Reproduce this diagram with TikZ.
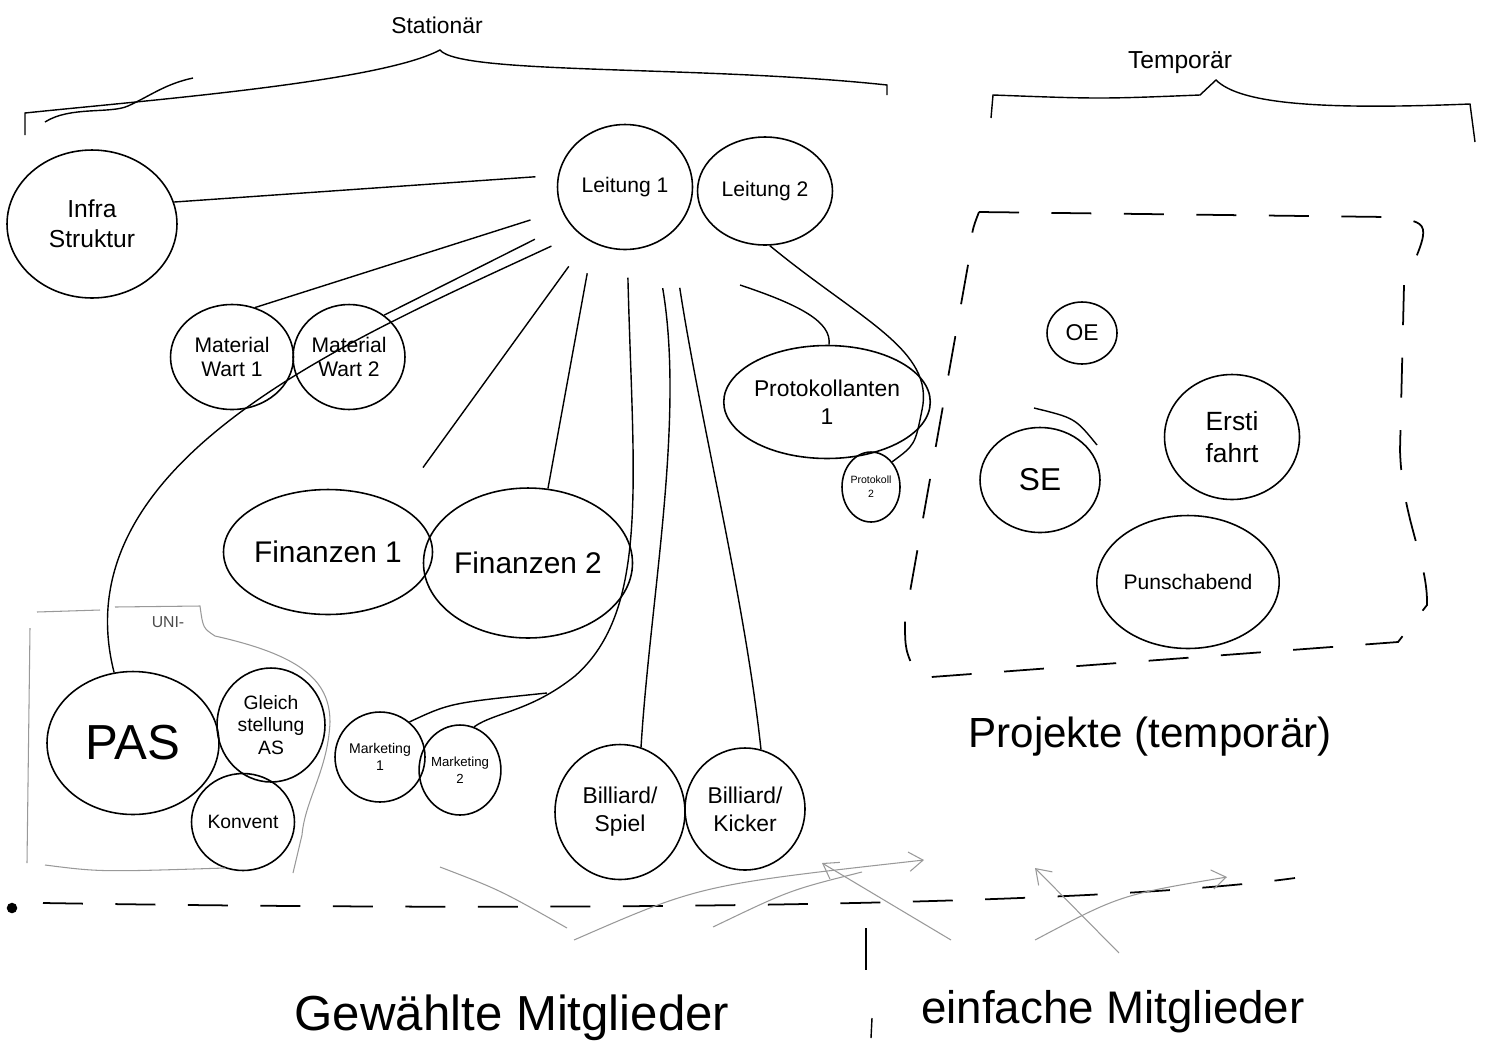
\documentclass[tikz,border=0pt]{standalone}
\usepackage{fontspec}
\setmainfont{Liberation Sans}
\usetikzlibrary{shapes.geometric,arrows.meta}

\begin{document}
\begin{tikzpicture}[x=0.02cm, y=-0.02cm,
    blob/.style = {draw, ellipse, inner sep=0pt, align=center, line width=0.9pt},
    wire/.style = {line width=0.8pt},
    faint/.style = {draw=black!40, line width=0.6pt},
    dashes/.style = {line width=1pt, dash pattern=on 0.8cm off 0.65cm},
    >={Straight Barb[length=8pt,width=11pt]}]
\useasboundingbox (0,0) rectangle (1487,1052);

% braces over the two halves
\node[font=\fontsize{13}{15}\selectfont] (stat) at (437,25) {Stationär};
\node[font=\fontsize{14}{16}\selectfont] (temp) at (1180,63) {Temporär};
\draw[wire] (25,135) -- (25,113) .. controls (150,100) and (380,82) .. (440,50)
    .. controls (460,75) and (700,65) .. (887,85) -- (887,95);
\draw[wire] (45,122) .. controls (70,106) and (110,114) .. (128,106) .. controls (150,96) and (165,84) .. (193,78);
\draw[wire] (991,118) -- (993,95) .. controls (1100,99) .. (1200,95) -- (1216,80)
    .. controls (1240,104) and (1320,110) .. (1470,104) -- (1475,142);

% nodes
\node[blob, minimum width=3.4cm, minimum height=2.96cm, font=\fontsize{14}{17}\selectfont] (infra) at (92,224) {Infra\\Struktur};
\node[blob, minimum width=2.7cm, minimum height=2.5cm, font=\fontsize{12}{14}\selectfont] (l1) at (625,187) {Leitung 1};
\node[blob, minimum width=2.7cm, minimum height=2.16cm, font=\fontsize{12}{14}\selectfont] (l2) at (765,191) {Leitung 2};
\node[blob, minimum width=2.46cm, minimum height=2.1cm, font=\fontsize{12}{14}\selectfont] (mw1) at (232,357) {Material\\Wart 1};
\node[blob, minimum width=2.24cm, minimum height=2.1cm, font=\fontsize{12}{14}\selectfont] (mw2) at (349,357) {Material\\Wart 2};
\node[blob, minimum width=3.66cm, minimum height=2.5cm, font=\fontsize{17}{20}\selectfont] (fin1) at (328,552) {Finanzen 1};
\node[blob, minimum width=3.8cm, minimum height=3.0cm, font=\fontsize{17}{20}\selectfont] (fin2) at (528,563) {Finanzen 2};
\node[blob, minimum width=3.8cm, minimum height=2.26cm, font=\fontsize{13}{16}\selectfont] (proto1) at (827,402) {Protokollanten\\1};
\node[blob, minimum width=1.04cm, minimum height=1.4cm, font=\fontsize{6}{8}\selectfont] (proto2) at (871,487) {Protokoll\\2};
\node[blob, minimum width=1.4cm, minimum height=1.24cm, font=\fontsize{13}{15}\selectfont] (oe) at (1082,333) {OE};
\node[blob, minimum width=2.7cm, minimum height=2.5cm, font=\fontsize{15}{18}\selectfont] (ersti) at (1232,437) {Ersti\\fahrt};
\node[blob, minimum width=2.4cm, minimum height=2.1cm, font=\fontsize{18}{20}\selectfont] (se) at (1040,480) {SE};
\node[blob, minimum width=3.06cm, minimum height=2.66cm, font=\fontsize{12}{14}\selectfont] (punsch) at (1188,582) {Punschabend};
\node[blob, minimum width=3.44cm, minimum height=2.86cm, font=\fontsize{28}{30}\selectfont] (pas) at (133,743) {PAS};
\node[blob, minimum width=2.16cm, minimum height=2.28cm, font=\fontsize{11}{13}\selectfont] (gleich) at (271,725) {Gleich\\stellung\\AS};
\node[blob, minimum width=2.06cm, minimum height=1.94cm, font=\fontsize{11}{13}\selectfont] (konvent) at (243,822) {Konvent};
\node[blob, minimum width=1.8cm, minimum height=1.8cm, font=\fontsize{8}{10}\selectfont] (mk1) at (380,757) {Marketing\\1};
\node[blob, minimum width=1.52cm, minimum height=1.8cm, font=\fontsize{7.5}{10}\selectfont] (mk2) at (460,770) {Marketing\\2};
\node[blob, minimum width=2.6cm, minimum height=2.7cm, font=\fontsize{13}{16}\selectfont] (bs) at (620,812) {Billiard/\\Spiel};
\node[blob, minimum width=2.4cm, minimum height=2.44cm, font=\fontsize{13}{16}\selectfont] (bk) at (745,809) {Billiard/\\Kicker};

% spokes from Leitung
\draw[wire, shorten >=0.45cm] (infra.15) -- (l1.170);
\draw[wire, shorten >=0.65cm] (mw1.65) -- (l1.200);
\draw[wire, shorten >=0.75cm] (mw2.50) -- (l1.212);
\draw[wire, shorten <=0.6cm] (l1.225) .. controls (350,340) and (60,460) .. (pas.105);
\draw[wire, shorten <=0.9cm, shorten >=0.65cm] (fin1.35) -- (l1.235);
\draw[wire, shorten >=0.62cm] (fin2.75) -- (l1.240);
\draw[wire, shorten <=0.55cm] (l1.272) .. controls (633,480) and (650,610) .. (575,676)
    .. controls (530,712) and (495,712) .. (mk2.72);
\coordinate (mkjoin) at (547,693);
\draw[wire] (mk1.50) .. controls (450,703) .. (mkjoin);
\draw[wire, shorten <=0.9cm] (l1.-62) .. controls (685,420) and (650,600) .. (bs.72);
\draw[wire, shorten <=1.1cm] (l1.-45) .. controls (700,420) and (745,600) .. (bk.75);
\coordinate (p1free) at (740,285);
\draw[wire] (p1free) .. controls (800,305) and (832,322) .. (proto1.88);
\draw[wire] (l2.-85) .. controls (860,320) and (935,350) .. (922,410) .. controls (915,445) .. (proto2.50);
\draw[wire] (1034,408) .. controls (1075,418) .. (1097,445);

% UNI area
\node[font=\fontsize{9}{10}\selectfont, text=black!70] (uni) at (168,622) {UNI-};
\draw[faint] (37,612) -- (100,610);
\draw[faint] (30,628) -- (27,863);
\draw[faint] (45,865) .. controls (100,872) .. (225,868);
\draw[faint] (115,607) -- (200,606) .. controls (203,628) .. (215,636)
    .. controls (300,655) and (330,680) .. (330,722) .. controls (328,770) and (305,800) .. (302,835) -- (293,873);

% Projekte box
\draw[dashes] (979,212) -- (1387,217) .. controls (1432,222) .. (1404,285) -- (1400,450)
    .. controls (1402,520) and (1428,560) .. (1427,605) -- (1398,642) -- (918,678)
    .. controls (905,650) .. (905,620) -- (968,265) .. controls (972,230) .. (979,212);
\node[font=\fontsize{24}{28}\selectfont] (proj) at (1150,737) {Projekte (temporär)};

% bottom line and members
\fill (12,908) circle (3pt);
\draw[dashes] (43,903) .. controls (600,912) and (1100,905) .. (1295,878);
\draw[faint, ->] (574,940) .. controls (700,885) .. (924,860);
\draw[faint] (713,927) .. controls (790,890) .. (862,872);
\draw[faint, ->] (951,940) -- (822,863);
\draw[faint, ->] (1119,953) -- (1035,868);
\draw[faint, ->] (1035,940) .. controls (1120,895) .. (1227,877);
\draw[faint] (440,867) .. controls (500,890) .. (567,928);
\draw[wire] (866,928) -- (866,970);
\node[font=\fontsize{28}{32}\selectfont] (gew) at (512,1018) {Gewählte Mitglieder};
\draw[wire] (872,1018) -- (871,1038);
\node[font=\fontsize{26}{30}\selectfont] (einf) at (1113,1012) {einfache Mitglieder};
\end{tikzpicture}
\end{document}
